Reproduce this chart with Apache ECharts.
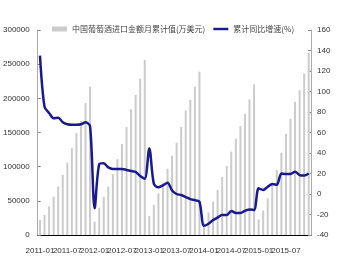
<!DOCTYPE html>
<html>
<head>
<meta charset="utf-8">
<script src="https://cdn.jsdelivr.net/npm/echarts@6/dist/echarts.min.js"></script>
<style>
html,body{margin:0;padding:0;background:#fff;}
#chart{width:346px;height:269px;}
</style>
</head>
<body>
<div id="chart"></div>
<script>
var years = ['2011','2012','2013','2014','2015'];
var months = ['01','02','03','04','05','06','07','08','09','10','11','12'];
var categories = [];
years.forEach(function(y){ months.forEach(function(m){ categories.push(y + '-' + m); }); });

var seriesBarName = '中国葡萄酒进口金额月累计值(万美元)';
var seriesLineName = '累计同比增速(%)';

var cumValue2011 = [22000, 29300, 42000, 56000, 71000, 88000, 106000, 127000, 149000, 167000, 193000, 217000];
var cumValue2012 = [19500, 40000, 56000, 71000, 89000, 111000, 133000, 158000, 184000, 205000, 229000, 256000];
var cumValue2013 = [28000, 44000, 61000, 76000, 97000, 116000, 135000, 158000, 182000, 198000, 217000, 239000];
var cumValue2014 = [18000, 33000, 49000, 66000, 85000, 101000, 122000, 141000, 159500, 177000, 198500, 220500];
var cumValue2015 = [23000, 35600, 53600, 74000, 95000, 120500, 148000, 170000, 195000, 212000, 236500, 266500];

var growth2011 = [135, 85, 79, 74, 74.5, 70, 68, 67.5, 67.5, 68, 70, 66];
var growth2012 = [-14, 29, 30, 26, 24.5, 24.5, 24.5, 23.5, 22.5, 21.5, 17.5, 15];
var growth2013 = [44.5, 10, 6.5, 8.5, 11, 3.5, 0, -1, -3, -5, -6, -7.5];
var growth2014 = [-31, -29, -25.5, -23, -20.5, -20.5, -16.5, -18.5, -18.5, -16.5, -15, -15.5];
var growth2015 = [5.5, 4, 7, 9.8, 9, 20, 19.6, 19.6, 21.8, 18.5, 18, 20];

var leftTicks = {min: 0, max: 300000, interval: 50000};
var rightTicks = {min: -40, max: 160, interval: 20};
var labelEvery = 6;

var barData = [].concat(cumValue2011, cumValue2012, cumValue2013, cumValue2014, cumValue2015);
var lineData = [].concat(growth2011, growth2012, growth2013, growth2014, growth2015);

var font = "'Liberation Sans', Arial, sans-serif";
var chart = echarts.init(document.getElementById('chart'), null, {renderer: 'canvas'});
chart.setOption({
  animation: false,
  backgroundColor: '#ffffff',
  legend: {
    top: 20,
    left: 'center',
    itemGap: 8,
    itemWidth: 15,
    itemHeight: 5,
    textStyle: {fontFamily: "'Noto Sans CJK SC', sans-serif", fontSize: 8, color: '#444'},
    data: [
      {name: seriesBarName, icon: 'rect'},
      {name: seriesLineName, icon: 'path://M0,0L0,0M0,1.2H16V3.8H0ZM0,5L0,5'}
    ]
  },
  grid: {left: 35, right: 35, top: 30, bottom: 34, containLabel: false},
  xAxis: {
    type: 'category',
    data: categories,
    boundaryGap: true,
    axisLine: {lineStyle: {color: '#000', width: 1}},
    axisTick: {show: true, inside: true, interval: labelEvery - 1, alignWithLabel: true, length: 3, lineStyle: {color: '#aaa'}},
    axisLabel: {
      interval: 0, margin: 12, fontFamily: font, fontSize: 8, color: '#333', hideOverlap: false,
      formatter: function(v, i){ return i % labelEvery === 0 ? v : ''; }
    }
  },
  yAxis: [
    {
      type: 'value', min: leftTicks.min, max: leftTicks.max, interval: leftTicks.interval,
      splitLine: {show: false},
      axisLine: {show: true, lineStyle: {color: '#aaa'}},
      axisTick: {show: true, inside: true, length: 3, lineStyle: {color: '#888'}},
      axisLabel: {margin: 8, fontFamily: font, fontSize: 8, color: '#333', formatter: function(v){ return String(v); }}
    },
    {
      type: 'value', min: rightTicks.min, max: rightTicks.max, interval: rightTicks.interval,
      position: 'right',
      splitLine: {show: false},
      axisLine: {show: true, lineStyle: {color: '#aaa'}},
      axisTick: {show: true, inside: true, length: 3, lineStyle: {color: '#888'}},
      axisLabel: {margin: 6, fontFamily: font, fontSize: 8, color: '#333', formatter: function(v){ return String(v); }}
    }
  ],
  series: [
    {
      name: seriesBarName,
      type: 'bar',
      yAxisIndex: 0,
      data: barData,
      barWidth: 2,
      itemStyle: {color: '#cbcbcb'}
    },
    {
      name: seriesLineName,
      type: 'line',
      yAxisIndex: 1,
      data: lineData,
      smooth: 0.3,
      symbol: 'none',
      lineStyle: {color: '#1a1a8c', width: 2.5},
      itemStyle: {color: '#1a1a8c'}
    }
  ]
});
</script>
</body>
</html>
